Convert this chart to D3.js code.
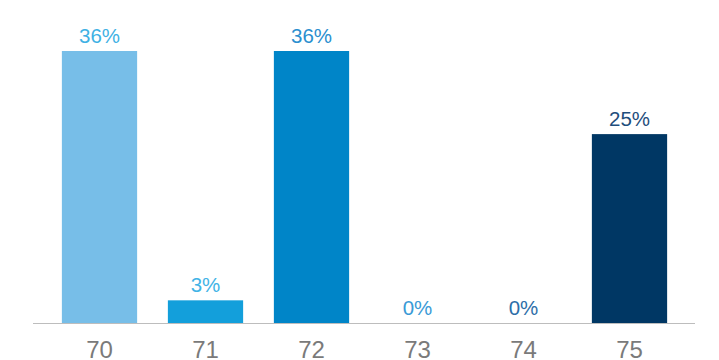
<!DOCTYPE html>
<html><head><meta charset="utf-8">
<script src="https://cdn.jsdelivr.net/npm/d3@7"></script>
<style>body{margin:0;background:#fff;}svg{display:block;}</style>
</head><body>
<svg id="c" width="719" height="360"></svg>
<script>
const categories = ["70","71","72","73","74","75"];
const values = [36, 3, 36, 0, 0, 25];
const barColors = ["#77bee8","#139fdb","#0085c8","#0070b0","#1f5a92","#003764"];
const labelColors = ["#3fb1e4","#41b3e6","#2b8fcf","#3a9ad6","#2d6ea8","#1f4e7c"];

const svg = d3.select("#c");
const baseline = 323;
const x = d3.scaleBand().domain(categories).range([46.5, 682.5]).paddingInner(0.29).paddingOuter(0.145);
const y = d3.scaleLinear().domain([0, 36]).range([baseline, 51]);

svg.selectAll("rect.bar").data(values).join("rect")
  .attr("class","bar")
  .attr("x",(d,i)=>x(categories[i]))
  .attr("width",x.bandwidth())
  .attr("y",d=>y(d))
  .attr("height",d=>baseline-y(d))
  .attr("fill",(d,i)=>barColors[i]);

svg.append("line").attr("x1",33).attr("x2",695).attr("y1",baseline+0.5).attr("y2",baseline+0.5)
  .attr("stroke","#bdbdbd").attr("stroke-width",1);

svg.selectAll("text.val").data(values).join("text")
  .attr("class","val")
  .attr("x",(d,i)=>x(categories[i])+x.bandwidth()/2)
  .attr("y",d=>y(d)-8)
  .attr("text-anchor","middle")
  .attr("font-family","'Liberation Sans', Arial, sans-serif")
  .attr("font-size",20.5)
  .attr("fill",(d,i)=>labelColors[i])
  .text(d=>d+"%");

const axis = d3.axisBottom(x).tickSize(0).tickPadding(0);
const g = svg.append("g").attr("transform",`translate(0,${baseline})`).call(axis);
g.select(".domain").remove();
g.selectAll("text")
  .attr("dy",null)
  .attr("y",35)
  .attr("font-family","'Liberation Sans', Arial, sans-serif")
  .attr("font-size",24)
  .attr("fill","#7a7a7a");
</script>
</body></html>
